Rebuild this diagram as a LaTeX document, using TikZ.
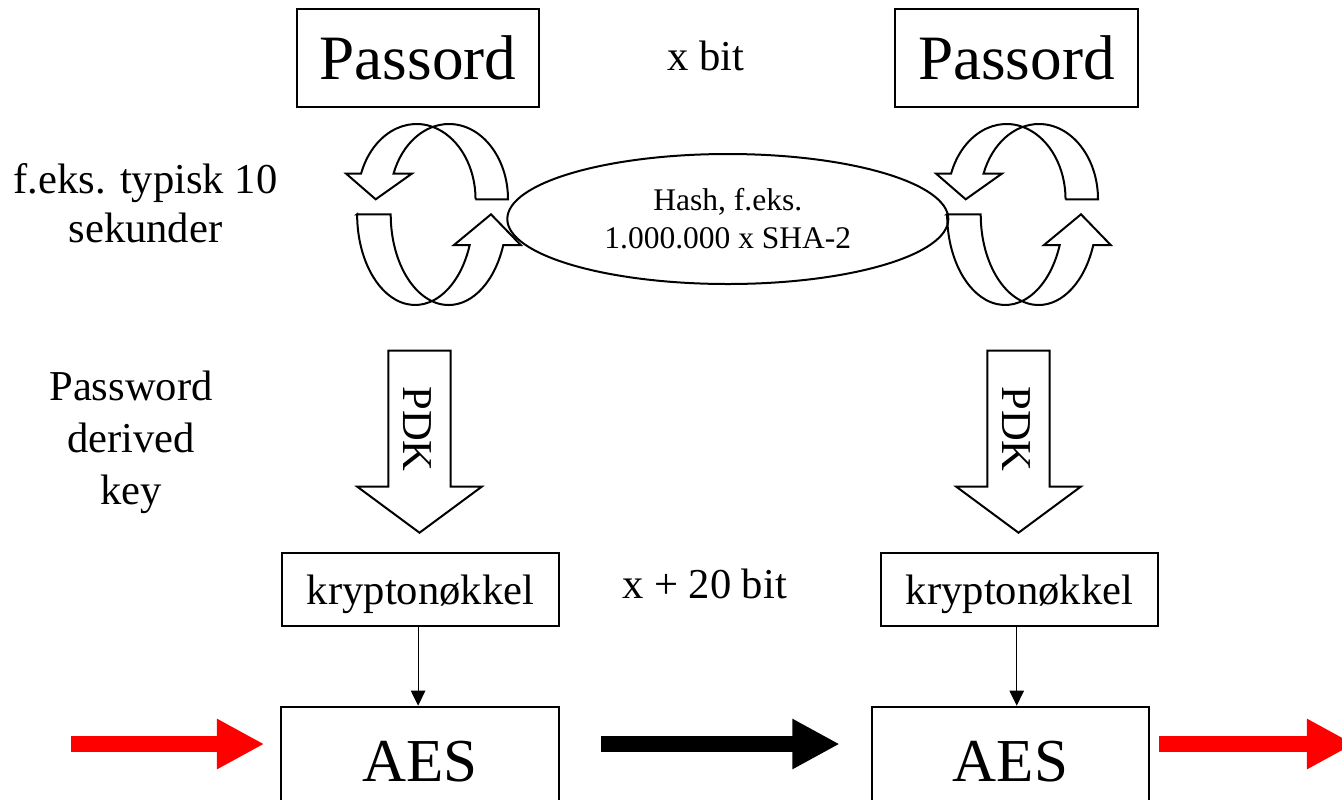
\documentclass[tikz,border=0pt]{standalone}
\usepackage{fontspec}
\setmainfont{Liberation Serif}
\usetikzlibrary{arrows.meta, positioning, shapes.geometric}
\tikzset{
  outline/.style={
    draw=black, line width=1pt, line join=miter
  },
  pw box/.style={
    rectangle, draw=black, line width=1pt,
    minimum width=121.3pt, minimum height=48.7pt,
    inner sep=0pt, font=\fontsize{31.6}{38}\selectfont
  },
  key box/.style={
    rectangle, draw=black, line width=1pt,
    minimum width=138.8pt, minimum height=36.7pt,
    inner sep=0pt, text depth=0pt, font=\fontsize{21.3}{25}\selectfont
  },
  aes box/.style={
    rectangle, draw=black, line width=1pt,
    minimum width=138.8pt, minimum height=55.3pt,
    inner sep=0pt, font=\fontsize{30.5}{36}\selectfont
  },
  side label/.style={
    align=center, inner sep=0pt, font=\fontsize{21.3}{24.5}\selectfont
  },
  hash ellipse/.style={
    ellipse, draw=black, line width=1pt,
    minimum width=220.5pt, minimum height=65pt,
    inner sep=0pt, align=center, font=\fontsize{15.75}{19}\selectfont
  },
  key arrow/.style={
    -{Triangle[length=7.6pt, width=7.3pt]}, line width=0.55pt
  },
  block arrow/.style={
    -{Triangle[length=23.7pt, width=23.5pt]}, line width=8.15pt
  },
  % two ribbons chasing each other round
  rotor/.pic={
    \draw[outline] (43.5,14.7) -- (76,14.7)
      arc[start angle=0, end angle=160, x radius=59, y radius=75.3]
      -- (-20,40.45) -- (-56.3,14.7) -- (-86,40.45) -- (-70.9,40.45)
      arc[start angle=160, end angle=0, x radius=59, y radius=75.3] -- cycle;
    \draw[outline] (-74.9,-0.3) -- (-41.3,-0.3)
      arc[start angle=180, end angle=340.2, x radius=58, y radius=90.7]
      -- (88.7,-31) -- (59,-0.3) -- (22,-31) -- (37.7,-31)
      arc[start angle=340.2, end angle=180, x radius=58, y radius=90.7] -- cycle;
  },
  % fat down arrow with the text along it
  pdk arrow/.pic={
    \draw[outline] (-31.2,0) -- (31.2,0) -- (31.2,-136) -- (62.2,-136)
      -- (0,-182) -- (-62.2,-136) -- (-31.2,-136) -- cycle;
    \node[rotate=-90, inner sep=0pt, font=\fontsize{21.3}{25}\selectfont]
      (-text) at (-2.5,-78.3) {PDK};
  }
}

\begin{document}
\begin{tikzpicture}[x=0.5pt, y=0.5pt]
  \useasboundingbox (0,0) rectangle (1342,-799);

  \node (pw1) [pw box] at (418,-58) {Passord};
  \node (pw2) [pw box] at (1016.5,-58) {Passord};
  \node (xbit) [side label, anchor=base] at (705.5,-70) {x bit};

  \pic at (432,-214) {rotor};
  \pic at (1022,-214) {rotor};
  \node (hash) [hash ellipse] at (727.8,-219) {Hash, f.eks.\\1.000.000 x SHA-2};
  \node (time) [side label] at (145.5,-203) {f.eks. typisk 10\\sekunder};

  \pic (pdk1) at (419.5,-350.7) {pdk arrow};
  \pic (pdk2) at (1018.5,-350.7) {pdk arrow};
  \node (pdkinfo) [side label, font=\fontsize{21.3}{26}\selectfont]
    at (131,-442) {Password\\derived\\key};

  \node (key1) [key box] at (420.5,-589.4) {kryptonøkkel};
  \node (key2) [key box] at (1019.5,-589.4) {kryptonøkkel};
  \node (xbits) [side label, anchor=base] at (704.5,-598) {x + 20 bit};

  \node (aes1) [aes box] at (419.9,-762) {AES};
  \node (aes2) [aes box] at (1010.5,-762) {AES};

  \draw [key arrow] ([xshift=-1.2pt]key1.south) -- ([xshift=-1.2pt]key1.south |- aes1.north);
  \draw [key arrow] ([xshift=-1.4pt]key2.south) -- ([xshift=-1.4pt]key2.south |- aes2.north);

  \coordinate (feed) at (70.7,-744);
  \coordinate (out) at (1354.3,-744);
  \draw [block arrow, red, shorten >=7.9pt] (feed) -- (feed -| aes1.west);
  \draw [block arrow, black, shorten <=20.6pt, shorten >=15.5pt]
    (feed -| aes1.east) -- (feed -| aes2.west);
  \draw [block arrow, red, shorten <=4.5pt] (feed -| aes2.east) -- (out);
\end{tikzpicture}
\end{document}
